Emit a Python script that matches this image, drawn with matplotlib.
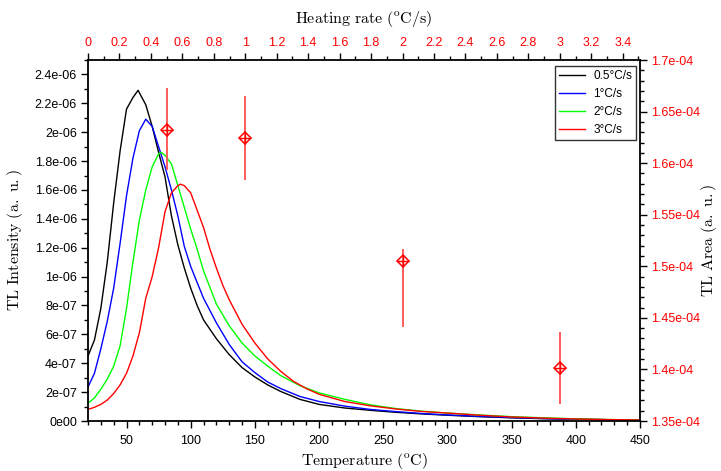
import matplotlib
matplotlib.use("Agg")
import matplotlib.pyplot as plt
from matplotlib.ticker import MultipleLocator, FuncFormatter
import numpy as np

# glow curves, intensity in units of 1e-7
temp_05 = [20, 25, 30, 35, 40, 45, 50, 55, 59, 65, 70, 75, 80, 85, 90, 95, 100, 105, 110, 120, 130, 140,
           150, 160, 170, 185, 200, 220, 240, 260, 280, 300, 325, 350, 375, 400, 425, 450]
int_05 = [4.5, 5.6, 7.8, 11.0, 15.1, 18.7, 21.6, 22.4, 22.9, 21.9, 20.4, 18.6, 16.9, 14.2, 12.2, 10.6, 9.2,
          8.0, 7.0, 5.7, 4.6, 3.7, 3.05, 2.5, 2.05, 1.5, 1.15, 0.9, 0.74, 0.6, 0.49, 0.4, 0.3, 0.22, 0.16,
          0.12, 0.09, 0.06]

temp_1 = [20, 25, 30, 35, 40, 45, 50, 55, 60, 65, 70, 75, 80, 85, 90, 95, 100, 105, 110, 120, 130, 140,
          150, 160, 170, 185, 200, 220, 240, 260, 280, 300, 325, 350, 375, 400, 425, 450]
int_1 = [2.35, 3.3, 5.0, 6.9, 9.2, 12.3, 15.6, 18.2, 20.1, 20.9, 20.4, 19.0, 17.6, 16.0, 14.2, 12.1, 10.7,
         9.6, 8.5, 6.8, 5.3, 4.1, 3.35, 2.7, 2.25, 1.7, 1.35, 1.03, 0.8, 0.65, 0.52, 0.42, 0.32, 0.24, 0.17,
         0.12, 0.09, 0.06]

temp_2 = [20, 25, 30, 35, 40, 45, 50, 55, 60, 65, 70, 75, 77, 80, 85, 90, 95, 100, 105, 110, 120, 130, 140,
          150, 160, 170, 185, 200, 220, 240, 260, 280, 300, 325, 350, 375, 400, 425, 450]
int_2 = [1.22, 1.6, 2.2, 2.9, 3.8, 5.2, 7.8, 11.0, 13.9, 16.0, 17.6, 18.5, 18.6, 18.4, 17.8, 16.3, 14.8,
         13.3, 11.9, 10.4, 8.1, 6.6, 5.4, 4.5, 3.8, 3.15, 2.45, 1.95, 1.5, 1.12, 0.86, 0.68, 0.55, 0.42,
         0.3, 0.22, 0.15, 0.1, 0.07]

temp_3 = [20, 25, 30, 35, 40, 45, 50, 55, 60, 65, 70, 75, 80, 85, 90, 92, 95, 100, 105, 110, 115, 120, 125,
          130, 140, 150, 160, 170, 180, 190, 200, 220, 240, 260, 280, 300, 325, 350, 375, 400, 425, 450]
int_3 = [0.8, 0.95, 1.15, 1.45, 1.9, 2.5, 3.3, 4.5, 6.1, 8.5, 10.0, 12.0, 14.5, 15.8, 16.3, 16.4, 16.3,
         15.8, 14.6, 13.4, 11.9, 10.6, 9.4, 8.4, 6.7, 5.4, 4.3, 3.45, 2.75, 2.25, 1.85, 1.35, 1.05, 0.83,
         0.66, 0.55, 0.4, 0.28, 0.2, 0.14, 0.1, 0.07]

# TL area vs heating rate
rates = [0.5, 1, 2, 3]
area = [1.6325e-4, 1.6248e-4, 1.5053e-4, 1.4015e-4]
area_err_lo = [3.9e-6, 4.1e-6, 6.4e-6, 3.5e-6]
area_err_hi = [4.0e-6, 4.0e-6, 1.1e-6, 3.5e-6]

labels = ["0.5°C/s", "1°C/s", "2°C/s", "3°C/s"]
colors = ["black", "#0000ff", "#00ff00", "#ff0000"]

plt.rcParams["font.family"] = ["Liberation Sans", "DejaVu Sans"]
plt.rcParams["mathtext.fontset"] = "cm"

fig = plt.figure(figsize=(7.21, 4.71), dpi=100)
pos = [88 / 721, 1 - 421 / 471, (640 - 88) / 721, (421 - 60) / 471]
ax = fig.add_axes(pos)

for t, i, lab, c in zip([temp_05, temp_1, temp_2, temp_3], [int_05, int_1, int_2, int_3], labels, colors):
    ax.plot(t, np.array(i) * 1e-7, color=c, lw=1.0, label=lab)

ax.set_xlim(20, 450)
ax.set_ylim(0, 2.5e-6)
ax.xaxis.set_major_locator(MultipleLocator(50))
ax.xaxis.set_minor_locator(MultipleLocator(10))
ax.yaxis.set_major_locator(MultipleLocator(2e-7))
ax.yaxis.set_minor_locator(MultipleLocator(1e-7))


def left_fmt(v, p):
    if abs(v) < 1e-12:
        return "0e00"
    m, e = f"{v:.1e}".split("e")
    m = m.rstrip("0").rstrip(".")
    return f"{m}e-{abs(int(e)):02d}"


ax.yaxis.set_major_formatter(FuncFormatter(left_fmt))
ax.tick_params(which="both", direction="out", labelsize=9, width=1, pad=3)
ax.tick_params(axis="x", pad=5)
ax.tick_params(which="major", length=5)
ax.tick_params(which="minor", length=3)
for s in ax.spines.values():
    s.set_linewidth(1.3)

ax.set_xlabel(r"$\mathrm{Temperature\ (^oC)}$", fontsize=11.5, labelpad=3)
ax.set_ylabel(r"$\mathrm{TL\ Intensity\ (a.\ u.)}$", fontsize=11.5)
ax.yaxis.set_label_coords(-0.114, 0.5)

leg = ax.legend(loc="upper right", bbox_to_anchor=(0.993, 0.983), borderaxespad=0, fontsize=8.5,
                frameon=True, fancybox=False, handlelength=2.2, handletextpad=0.7, borderpad=0.35,
                labelspacing=0.5)
leg.get_frame().set_edgecolor("black")
leg.get_frame().set_linewidth(1.0)

# second axes: heating rate (top) vs TL area (right)
ax2 = fig.add_axes(pos, frameon=False)
ax2.patch.set_alpha(0)
ax2.xaxis.tick_top()
ax2.xaxis.set_label_position("top")
ax2.yaxis.tick_right()
ax2.yaxis.set_label_position("right")

ax2.errorbar(rates, area, yerr=[area_err_lo, area_err_hi], fmt="none", ecolor="#ff5050", elinewidth=1.3,
             capsize=0)
ax2.plot(rates, area, ls="none", marker="D", ms=6, mfc="none", mec="red", mew=1.1)
ax2.plot(rates, area, ls="none", marker="+", ms=8, mec="red", mew=1.0)

ax2.set_xlim(0, 3.51)
ax2.set_ylim(1.35e-4, 1.7e-4)
ax2.xaxis.set_major_locator(MultipleLocator(0.2))
ax2.xaxis.set_minor_locator(MultipleLocator(0.1))
ax2.yaxis.set_major_locator(MultipleLocator(5e-6))
ax2.yaxis.set_minor_locator(MultipleLocator(1e-6))
ax2.xaxis.set_major_formatter(FuncFormatter(lambda v, p: f"{v:.1f}".rstrip("0").rstrip(".")))


def right_fmt(v, p):
    m, e = f"{v:.2e}".split("e")
    m = m.rstrip("0").rstrip(".")
    return f"{m}e-{abs(int(e)):02d}"


ax2.yaxis.set_major_formatter(FuncFormatter(right_fmt))
ax2.tick_params(which="both", direction="out", labelsize=9, labelcolor="red", width=1, pad=3)
ax2.tick_params(which="major", length=5)
ax2.tick_params(which="minor", length=3)

ax2.set_xlabel(r"$\mathrm{Heating\ rate\ (^oC/s)}$", fontsize=11.5, labelpad=10)
ax2.set_ylabel(r"$\mathrm{TL\ Area\ (a.\ u.)}$", fontsize=11.5, rotation=90)
ax2.yaxis.set_label_coords(1.107, 0.5)

fig.savefig("out.png", dpi=100)
